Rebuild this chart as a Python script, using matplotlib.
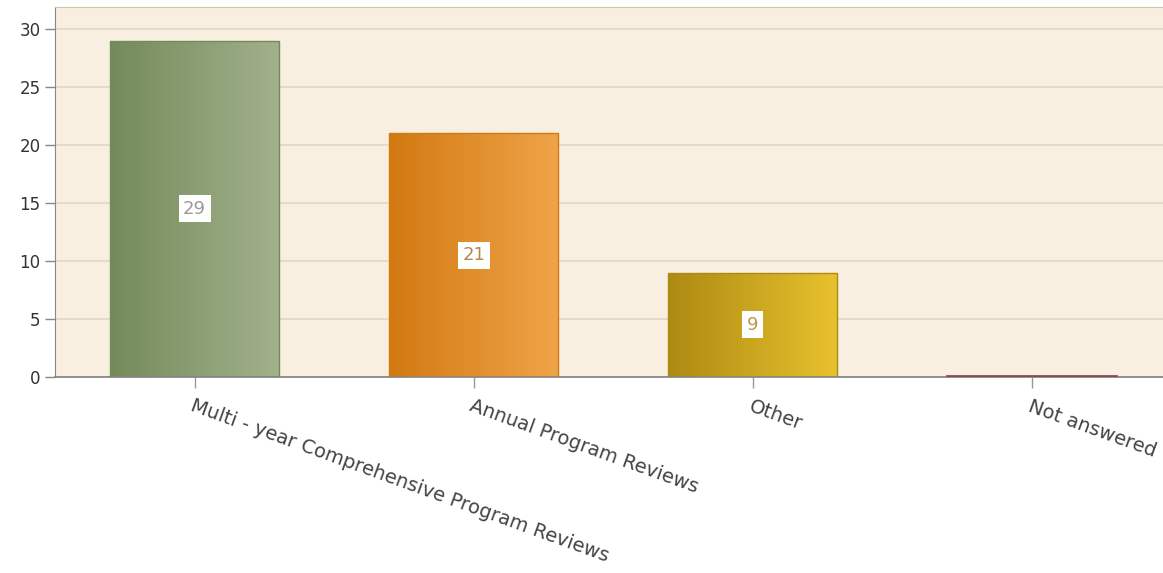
import numpy as np
import matplotlib
matplotlib.use("Agg")
from matplotlib import pyplot as plt
from matplotlib.colors import LinearSegmentedColormap
from matplotlib.patches import Rectangle

categories = ['Multi - year Comprehensive Program Reviews', 'Annual Program Reviews',
              'Other', 'Not answered']
counts = [29, 21, 9, 0]
left_colors = ['#748a5a', '#d27912', '#ad8a12', '#8b4a4a']
right_colors = ['#a2b28c', '#f0a448', '#e8c22e', '#8b4a4a']
label_colors = ['#9a9a9a', '#b8864a', '#b89a50', '#999999']
yticks = [0, 5, 10, 15, 20, 25, 30]

fig = plt.figure(figsize=(11.63, 5.73), dpi=100)
ax = fig.add_axes([0.0473, 0.342, 0.9527, 0.6457])
ax.set_facecolor('#f8efe0')
ax.set_xlim(-0.5, 3.47)
ax.set_ylim(0, 31.9)
ax.set_axisbelow(True)
ax.yaxis.grid(True, color='#e2d7c3', linewidth=1.2)

width = 0.606
x = np.arange(len(categories))
for i, v in enumerate(counts):
    x0 = x[i] - width / 2
    if v > 0:
        cmap = LinearSegmentedColormap.from_list('g%d' % i, [left_colors[i], right_colors[i]])
        grad = np.linspace(0, 1, 256).reshape(1, -1)
        rect = Rectangle((x0, 0), width, v, facecolor='none',
                         edgecolor=left_colors[i], linewidth=1, zorder=3)
        ax.add_patch(rect)
        im = ax.imshow(grad, cmap=cmap, aspect='auto', extent=(x0, x0 + width, 0, v),
                       zorder=2, interpolation='bilinear')
        im.set_clip_path(rect)
        ax.text(x[i], v / 2, str(v), ha='center', va='center', fontsize=13,
                color=label_colors[i], zorder=4,
                bbox=dict(boxstyle='square,pad=0.25', facecolor='white', edgecolor='none'))
    else:
        ax.plot([x0, x0 + width], [0.05, 0.05], color=left_colors[i], linewidth=2, zorder=3)

ax.set_yticks(yticks)
ax.set_xticks(x)
ax.set_xticklabels(categories, rotation=-20, ha='left', va='top',
                   rotation_mode='anchor', fontsize=14, color='#444444')
ax.tick_params(axis='y', labelsize=12, colors='#333333', length=7, width=1, color='#888888')
ax.tick_params(axis='x', length=8, width=1, color='#999999', pad=6)
for lbl in ax.get_yticklabels():
    lbl.set_color('#333333')

ax.spines['right'].set_visible(False)
ax.spines['top'].set_color('#cfc4b0')
ax.spines['left'].set_color('#888888')
ax.spines['bottom'].set_color('#888888')
ax.spines['bottom'].set_linewidth(1.3)

fig.savefig('out.png', dpi=100)
